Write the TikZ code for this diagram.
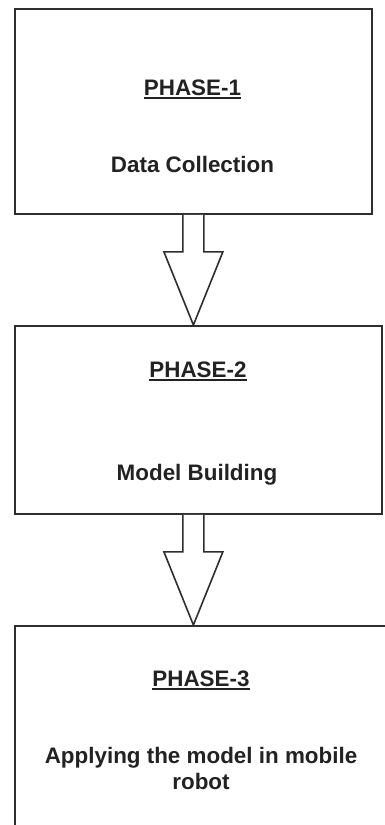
\documentclass[tikz,border=0pt]{standalone}
\usepackage{fontspec}
\setmainfont{Liberation Sans}
\usetikzlibrary{calc}
\definecolor{linec}{HTML}{2E2E2E}
\definecolor{textc}{HTML}{222222}
\begin{document}
\begin{tikzpicture}[x=1pt,y=-1pt,
  phasebox/.style={draw=linec, line width=1.8pt, fill=white, inner sep=0pt, anchor=north west},
  lab/.style={inner sep=0pt, anchor=base, text=textc, font=\fontsize{22.4}{27}\selectfont\bfseries},
  ulin/.style={draw=textc, line width=1.4pt},
  blockarrow/.style={draw=linec, line width=1.6pt, fill=white, line join=miter}]
\useasboundingbox (0,0) rectangle (385,825);
\clip (0,0) rectangle (385,825);
\fill[white] (0,0) rectangle (385,825);
% boxes
\node[phasebox, minimum width=357pt, minimum height=205pt] (box1) at (14,8) {};
\node[phasebox, minimum width=367pt, minimum height=188pt] (box2) at (14,325) {};
\node[phasebox, minimum width=390pt, minimum height=260pt] (box3) at (14,625) {};
% texts
\node[lab] (p1) at (192.5,95) {PHASE-1};
\draw[ulin] ([yshift=-3pt]p1.base west) -- ([yshift=-3pt]p1.base east);
\node[lab] (d1) at (192.5,172) {Data Collection};
\node[lab] (p2) at (198,377) {PHASE-2};
\draw[ulin] ([yshift=-3pt]p2.base west) -- ([yshift=-3pt]p2.base east);
\node[lab] (d2) at (197,480) {Model Building};
\node[lab] (p3) at (201,686) {PHASE-3};
\draw[ulin] ([yshift=-3pt]p3.base west) -- ([yshift=-3pt]p3.base east);
\node[lab, align=center] (d3) at (201,789) {Applying the model in mobile\\[-1pt]robot};
% block arrows
\coordinate (a1s) at (box1.south);
\coordinate (a1e) at (a1s |- box2.north);
\draw[blockarrow] ($(a1s)+(-10.5,0)$) -- ++(0,37) -- ++(-19,0) -- (a1e) -- ($(a1s)+(29.5,37)$) -- ++(-19,0) -- ++(0,-37);
\coordinate (a2s) at (a1s |- box2.south);
\coordinate (a2e) at (a1s |- box3.north);
\draw[blockarrow] ($(a2s)+(-10.5,0)$) -- ++(0,37) -- ++(-19,0) -- (a2e) -- ($(a2s)+(29.5,37)$) -- ++(-19,0) -- ++(0,-37);
\end{tikzpicture}
\end{document}
